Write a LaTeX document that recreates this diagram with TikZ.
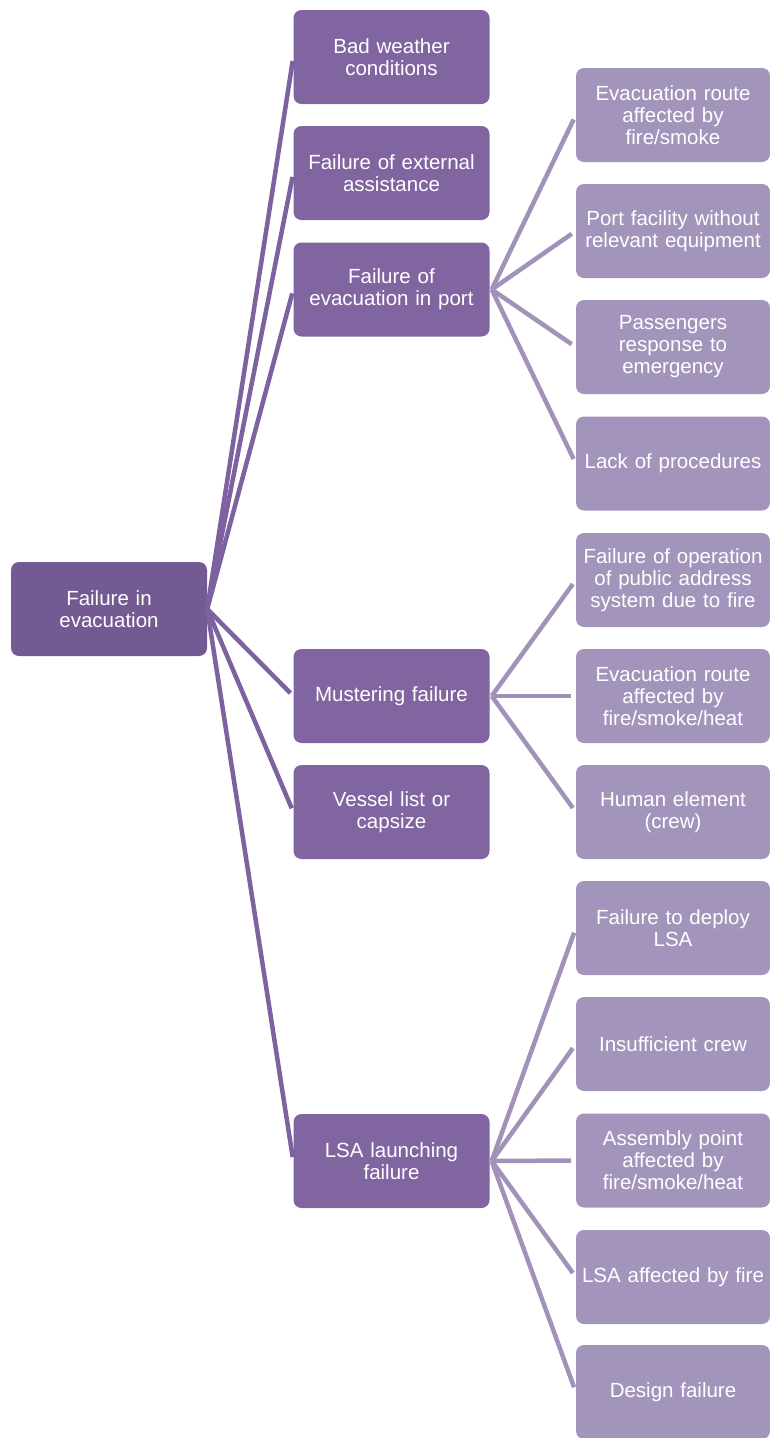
\documentclass[tikz,border=0pt]{standalone}
\usepackage{fontspec}
\setmainfont{Liberation Sans}
\definecolor{rootfill}{HTML}{735A92}
\definecolor{midfill}{HTML}{8165A1}
\definecolor{leaffill}{HTML}{A394BB}
\definecolor{midline}{HTML}{7E62A0}
\definecolor{leafline}{HTML}{A292BA}
\begin{document}
\begin{tikzpicture}[x=1pt,y=-1pt,
  box/.style={rectangle, rounded corners=8pt, minimum width=196pt, minimum height=94pt,
    text width=192pt, align=center, text=white, inner sep=0pt,
    font=\fontsize{20.5}{22}\selectfont},
  rootbox/.style={box, fill=rootfill},
  midbox/.style={box, fill=midfill},
  leafbox/.style={box, fill=leaffill, minimum width=194pt},
  link/.style={line width=4.5pt},
  midlink/.style={link, draw=midline, shorten >=4pt},
  leaflink/.style={link, draw=leafline, shorten >=5pt}]
\useasboundingbox (0,0) rectangle (770,1438);

% root
\node[rootbox] (root) at (109,609) {Failure in\\evacuation};

% first level
\node[midbox] (weather) at (391.5,57) {Bad weather\\conditions};
\node[midbox] (assist)  at (391.5,173) {Failure of external\\assistance};
\node[midbox] (port)    at (391.5,289.5) {Failure of\\evacuation in port};
\node[midbox] (muster)  at (391.5,696) {Mustering failure};
\node[midbox] (vessel)  at (391.5,812) {Vessel list or\\capsize};
\node[midbox] (lsa)     at (391.5,1161) {LSA launching\\failure};

% second level
\node[leafbox] (p1) at (673,115) {Evacuation route\\affected by\\fire/smoke};
\node[leafbox] (p2) at (673,231) {Port facility without\\relevant equipment};
\node[leafbox] (p3) at (673,347) {Passengers\\response to\\emergency};
\node[leafbox] (p4) at (673,463.5) {Lack of procedures};
\node[leafbox] (m1) at (673,580) {Failure of operation\\of public address\\system due to fire};
\node[leafbox] (m2) at (673,696) {Evacuation route\\affected by\\fire/smoke/heat};
\node[leafbox] (m3) at (673,812) {Human element\\(crew)};
\node[leafbox] (l1) at (673,928) {Failure to deploy\\LSA};
\node[leafbox] (l2) at (673,1044) {Insufficient crew};
\node[leafbox] (l3) at (673,1160.5) {Assembly point\\affected by\\fire/smoke/heat};
\node[leafbox] (l4) at (673,1277) {LSA affected by fire};
\node[leafbox] (l5) at (673,1392) {Design failure};

% connectors from the root
\foreach \c in {weather,assist,port,muster,vessel,lsa}
  \draw[midlink] (root.east) -- (\c.west);

% connectors to the second level
\foreach \c in {p1,p2,p3,p4}
  \draw[leaflink] ([xshift=2pt]port.east) -- (\c.west);
\foreach \c in {m1,m2,m3}
  \draw[leaflink] ([xshift=2pt]muster.east) -- (\c.west);
\foreach \c in {l1,l2,l3,l4,l5}
  \draw[leaflink] ([xshift=2pt]lsa.east) -- (\c.west);
\end{tikzpicture}
\end{document}
